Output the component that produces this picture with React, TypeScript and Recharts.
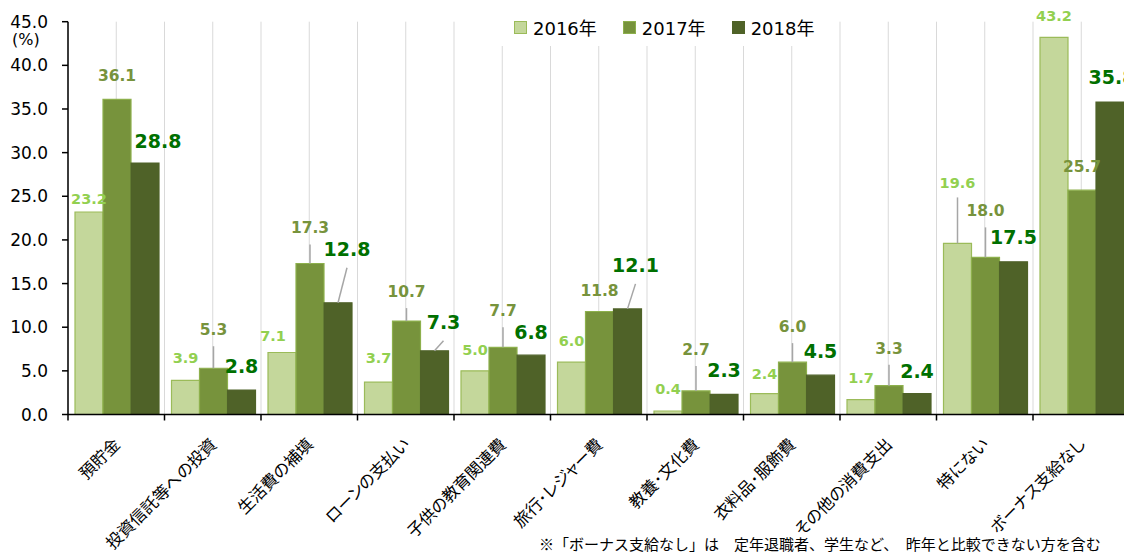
import React from "react";
import { BarChart, Bar, XAxis, YAxis, CartesianGrid, LabelList } from "recharts";

const categories = [
  "預貯金", "投資信託等への投資", "生活費の補填", "ローンの支払い", "子供の教育関連費",
  "旅行･レジャー費", "教養･文化費", "衣料品･服飾費", "その他の消費支出", "特にない", "ボーナス支給なし",
];
const v2016 = [23.2, 3.9, 7.1, 3.7, 5.0, 6.0, 0.4, 2.4, 1.7, 19.6, 43.2];
const v2017 = [36.1, 5.3, 17.3, 10.7, 7.7, 11.8, 2.7, 6.0, 3.3, 18.0, 25.7];
const v2018 = [28.8, 2.8, 12.8, 7.3, 6.8, 12.1, 2.3, 4.5, 2.4, 17.5, 35.8];
const yTicks = [0, 5, 10, 15, 20, 25, 30, 35, 40, 45];
const years = ["2016年", "2017年", "2018年"];

// label placement (px above the bar top / sideways shift), copied from the manual Excel layout
const lift2016 = [13, 22, 17, 24, 21, 21, 22, 20, 22, 60, 21];
const shift2016 = [0, 0, -9, 0, 0, 0, 0, 0, 0, 0, 0];
const lift2017 = [23, 38, 35, 29, 36, 20, 41, 35, 37, 46, 23];
const shift2017 = [0, 0, 0, 0, 0, 0, 0, 0, 0, 0, 0];
const lift2018 = [22, 24, 54, 29, 23, 44, 24, 24, 23, 25, 25];
const shift2018 = [13, 0, 9, 9, 0, 8, 0, 0, 0, 0, 2];

const data = categories.map((c, i) => ({ name: c, y2016: v2016[i], y2017: v2017[i], y2018: v2018[i] }));

const W = 1140, H = 553;
const M = { top: 21.7, right: 10.5, bottom: 0, left: 0 };
const YW = 68;
const PLOT_W = W - YW - M.right - M.left;
const LATIN = "'DejaVu Sans', 'Noto Sans CJK JP', sans-serif";
const JP = "'Noto Sans CJK JP', sans-serif";

const colors = [
  { fill: "#c4d79b", stroke: "#9bbb59", text: "#92d050", size: 14.5, gap: 14 },
  { fill: "#77933c", stroke: "#8db04c", text: "#77933c", size: 15.5, gap: 16 },
  { fill: "#4f6228", stroke: "#4f6228", text: "#007000", size: 19, gap: 19 },
];

const makeLabel = (s: number, lifts: number[], shifts: number[]) => (p: any) => {
  const { x, y, width, index, value } = p;
  const cx = Number(x) + Number(width) / 2;
  const top = Number(y);
  const lx = cx + shifts[index];
  const ly = top - lifts[index];
  const c = colors[s];
  return (
    <g>
      {lifts[index] > 28 && (
        <line x1={lx} y1={ly + c.gap} x2={cx} y2={top} stroke="#a6a6a6" strokeWidth={1.5} />
      )}
      <text x={lx} y={ly} textAnchor="middle" dominantBaseline="central"
        fill={c.text} fontSize={c.size} fontWeight={700} fontFamily={LATIN}>
        {Number(value).toFixed(1)}
      </text>
    </g>
  );
};

const CatTick = (p: any) => {
  const { x, y, payload } = p;
  const band = PLOT_W / categories.length;
  const bx = x - band / 2;
  const ax = x + 5, ay = y + 31;
  return (
    <g>
      <line x1={bx} y1={y} x2={bx} y2={y + 6} stroke="#000" strokeWidth={1.5} />
      <text x={ax} y={ay} transform={`rotate(-45 ${ax} ${ay})`} textAnchor="end"
        fontSize={16.5} fontFamily={JP} fill="#000" style={{ fontFeatureSettings: '"palt"' }}>
        {payload.value}
      </text>
    </g>
  );
};

export default function App() {
  return (
    <div style={{ position: "absolute", left: 0, top: 0, width: 1124, height: 553, overflow: "hidden", background: "#fff" }}>
      <BarChart width={W} height={H} data={data} margin={M} barCategoryGap={7} barGap={0}>
        <CartesianGrid horizontal={false} stroke="#d9d9d9" strokeWidth={1}
          verticalCoordinatesGenerator={({ offset }: any) =>
            Array.from({ length: categories.length * 2 + 1 }, (_, i) => offset.left + (i * offset.width) / (categories.length * 2))
          } />
        <XAxis dataKey="name" height={H - 414.5} interval={0} tickSize={0} tickMargin={0}
          axisLine={{ stroke: "#000", strokeWidth: 1.5 }} tick={<CatTick />} />
        <YAxis width={YW} domain={[0, 45]} ticks={yTicks} interval={0} tickSize={6} tickMargin={14}
          tickFormatter={(v: number) => v.toFixed(1)}
          axisLine={{ stroke: "#000", strokeWidth: 1.5 }} tickLine={{ stroke: "#000", strokeWidth: 1.5 }}
          tick={{ fontSize: 17, fill: "#000", fontFamily: LATIN }} />
        {["y2016", "y2017", "y2018"].map((k, s) => (
          <Bar key={k} dataKey={k} name={years[s]} fill={colors[s].fill} stroke={colors[s].stroke}
            strokeWidth={1.2} isAnimationActive={false}>
            <LabelList dataKey={k} content={makeLabel(s, [lift2016, lift2017, lift2018][s], [shift2016, shift2017, shift2018][s])} />
          </Bar>
        ))}
      </BarChart>
      <div style={{ position: "absolute", left: 462, top: 0, width: 372, height: 46, background: "#fff" }} />
      <div style={{ position: "absolute", left: 514, top: 14, display: "flex", alignItems: "center", fontFamily: LATIN, fontSize: 18, color: "#000" }}>
        {years.map((yr, s) => (
          <div key={yr} style={{ display: "flex", alignItems: "center", marginRight: 26 }}>
            <span style={{ width: 11, height: 11, background: colors[s].fill, border: `1px solid ${colors[s].stroke}`, marginRight: 6, display: "inline-block" }} />
            <span>{yr}</span>
          </div>
        ))}
      </div>
      <div style={{ position: "absolute", left: 12, top: 30, fontFamily: LATIN, fontSize: 16, color: "#000" }}>(%)</div>
      <div style={{ position: "absolute", left: 539, top: 536, lineHeight: "16px", fontFamily: JP, fontSize: 15, color: "#000", whiteSpace: "nowrap" }}>
        ※「ボーナス支給なし」は　定年退職者、学生など、　昨年と比較できない方を含む
      </div>
    </div>
  );
}
